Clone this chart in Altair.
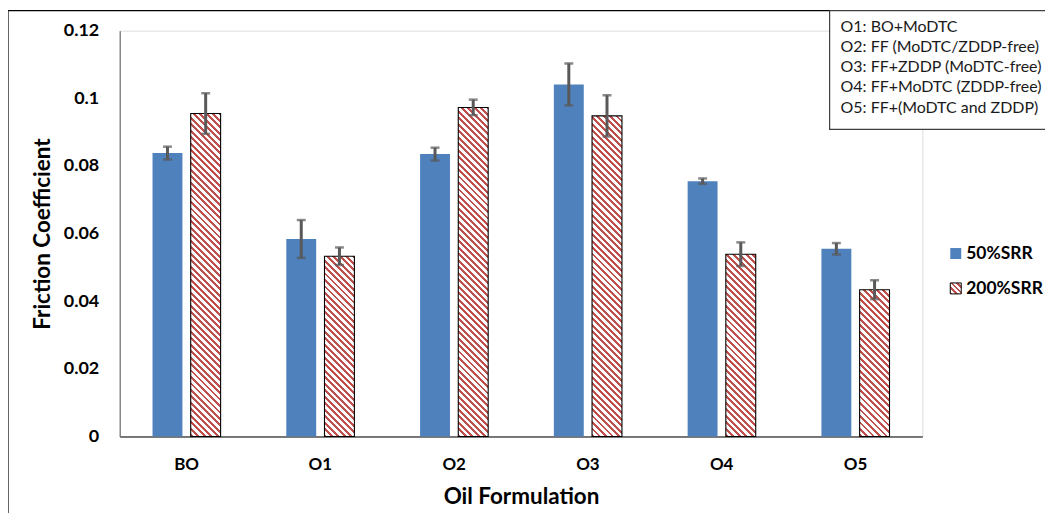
import altair as alt
import pandas as pd

# ---- data ----
categories = ["BO", "O1", "O2", "O3", "O4", "O5"]
series_names = ["50%SRR", "200%SRR"]
friction_50 = [0.0838, 0.0584, 0.0835, 0.1041, 0.0755, 0.0555]
error_50 = [0.0019, 0.0056, 0.0019, 0.0062, 0.0008, 0.0017]
friction_200 = [0.0955, 0.0533, 0.0973, 0.0948, 0.0539, 0.0434]
error_200 = [0.0060, 0.0026, 0.0023, 0.0061, 0.0035, 0.0028]
y_ticks = [0, 0.02, 0.04, 0.06, 0.08, 0.1, 0.12]
note_lines = [
    "O1: BO+MoDTC",
    "O2: FF (MoDTC/ZDDP-free)",
    "O3: FF+ZDDP (MoDTC-free)",
    "O4: FF+MoDTC (ZDDP-free)",
    "O5: FF+(MoDTC and ZDDP)",
]

# ---- styling ----
BLUE = "#4F81BD"
RED = "#C0504D"
ERR = "#595959"
FONT = "Lato"
W, H = 805, 407
Y_MAX = 0.12
PAD_IN, PAD_OUT = 0.491, 0.2455
OFF_PAD = 0.217

rows = []
for c, v, e in zip(categories, friction_50, error_50):
    rows.append({"cat": c, "series": series_names[0], "value": v, "lo": v - e, "hi": v + e})
for c, v, e in zip(categories, friction_200, error_200):
    rows.append({"cat": c, "series": series_names[1], "value": v, "lo": v - e, "hi": v + e})
df = pd.DataFrame(rows)

# bar width in pixels (from band-scale parameters), used for hatch gradients
step = W / (len(categories) - PAD_IN + 2 * PAD_OUT)
bandwidth = step * (1 - PAD_IN)
step2 = bandwidth / (2 - OFF_PAD)
bar_w = step2 * (1 - OFF_PAD)


def hatch(w, h, period=6.5, frac=0.45):
    L = w + h
    k = L / (w * w + h * h)
    stops = []
    n = int(L / period) + 1
    for i in range(n):
        a = min(i * period / L, 1)
        b = min((i * period + frac * period) / L, 1)
        stops += [
            {"offset": a, "color": "white"},
            {"offset": a, "color": RED},
            {"offset": b, "color": RED},
            {"offset": b, "color": "white"},
        ]
    return {"gradient": "linear", "x1": 0, "y1": 1, "x2": k * w, "y2": 1 - k * h, "stops": stops}


x_enc = alt.X(
    "cat:N",
    sort=categories,
    scale=alt.Scale(paddingInner=PAD_IN, paddingOuter=PAD_OUT),
    axis=alt.Axis(
        title="Oil Formulation", labelAngle=0, ticks=False, domainColor="black",
        labelFontSize=17, labelFontWeight="bold", labelColor="black", labelPadding=20,
        titleFontSize=22.5, titleFontWeight="bold", titleColor="black", titlePadding=13,
        labelFont=FONT, titleFont=FONT,
    ),
)
xoff_enc = alt.XOffset("series:N", sort=series_names,
                       scale=alt.Scale(domain=series_names, paddingInner=OFF_PAD, paddingOuter=0))
y_scale = alt.Scale(domain=[0, Y_MAX], nice=False, zero=True)
y_enc = alt.Y(
    "value:Q", scale=y_scale,
    axis=alt.Axis(
        title="Friction Coefficient", values=y_ticks, format="~g", ticks=False, grid=False,
        domainColor="#595959", labelFontSize=18, labelFontWeight="bold", labelColor="black",
        labelPadding=21, titleFontSize=22.5, titleFontWeight="bold", titleColor="black",
        titlePadding=9, labelFont=FONT, titleFont=FONT,
    ),
)

base = alt.Chart(df)

blue_bars = base.transform_filter(alt.datum.series == series_names[0]).mark_bar(
    color=BLUE
).encode(x=x_enc, xOffset=xoff_enc, y=y_enc)

red_layers = []
for c, v in zip(categories, friction_200):
    h = v / Y_MAX * H
    red_layers.append(
        base.transform_filter(
            (alt.datum.series == series_names[1]) & (alt.datum.cat == c)
        ).mark_bar(fill=hatch(bar_w, h), stroke="black", strokeWidth=1.1).encode(
            x=x_enc, xOffset=xoff_enc, y=y_enc
        )
    )

err_rule = base.mark_rule(color=ERR, strokeWidth=3).encode(
    x=x_enc, xOffset=xoff_enc, y=alt.Y("lo:Q", scale=y_scale), y2="hi:Q"
)
cap_lo = base.mark_tick(color=ERR, orient="horizontal", size=9, thickness=2.5).encode(
    x=x_enc, xOffset=xoff_enc, y=alt.Y("lo:Q", scale=y_scale)
)
cap_hi = base.mark_tick(color=ERR, orient="horizontal", size=9, thickness=2.5).encode(
    x=x_enc, xOffset=xoff_enc, y=alt.Y("hi:Q", scale=y_scale)
)

one = alt.Chart(pd.DataFrame({"k": [0]}))

# chart frame and notes box
frame = one.mark_rect(fill="white", fillOpacity=0, stroke="black", strokeWidth=1.2).encode(
    x=alt.value(-112), x2=alt.value(1100), y=alt.value(-20), y2=alt.value(700)
)
note_box = one.mark_rect(fill="white", stroke="#404040", strokeWidth=1.2).encode(
    x=alt.value(712), x2=alt.value(1100), y=alt.value(-20), y2=alt.value(99)
)
note_text = one.mark_text(
    text=note_lines, align="left", baseline="top", font=FONT, fontSize=16,
    lineHeight=20.3, color="#1a1a1a",
).encode(x=alt.value(723), y=alt.value(-12))

# custom legend
leg_blue = one.mark_rect(fill=BLUE).encode(
    x=alt.value(833), x2=alt.value(844), y=alt.value(218), y2=alt.value(229)
)
leg_red = one.mark_rect(fill=hatch(11, 11, period=5.5), stroke="black", strokeWidth=1).encode(
    x=alt.value(833), x2=alt.value(844), y=alt.value(253), y2=alt.value(264)
)
leg_t1 = one.mark_text(text=series_names[0], align="left", baseline="middle", font=FONT,
                       fontSize=17.5, fontWeight="bold", color="black").encode(
    x=alt.value(849), y=alt.value(224))
leg_t2 = one.mark_text(text=series_names[1], align="left", baseline="middle", font=FONT,
                       fontSize=17.5, fontWeight="bold", color="black").encode(
    x=alt.value(849), y=alt.value(259))

chart = alt.layer(
    frame, blue_bars, *red_layers, err_rule, cap_lo, cap_hi,
    note_box, note_text, leg_blue, leg_red, leg_t1, leg_t2,
).properties(
    width=W, height=H,
    autosize=alt.AutoSizeParams(type="none"),
    padding={"left": 112, "top": 22, "right": 123, "bottom": 76},
).configure_view(stroke=None).configure(background="white")

chart.save("out.html", embed_options={"renderer": "svg", "actions": False})
